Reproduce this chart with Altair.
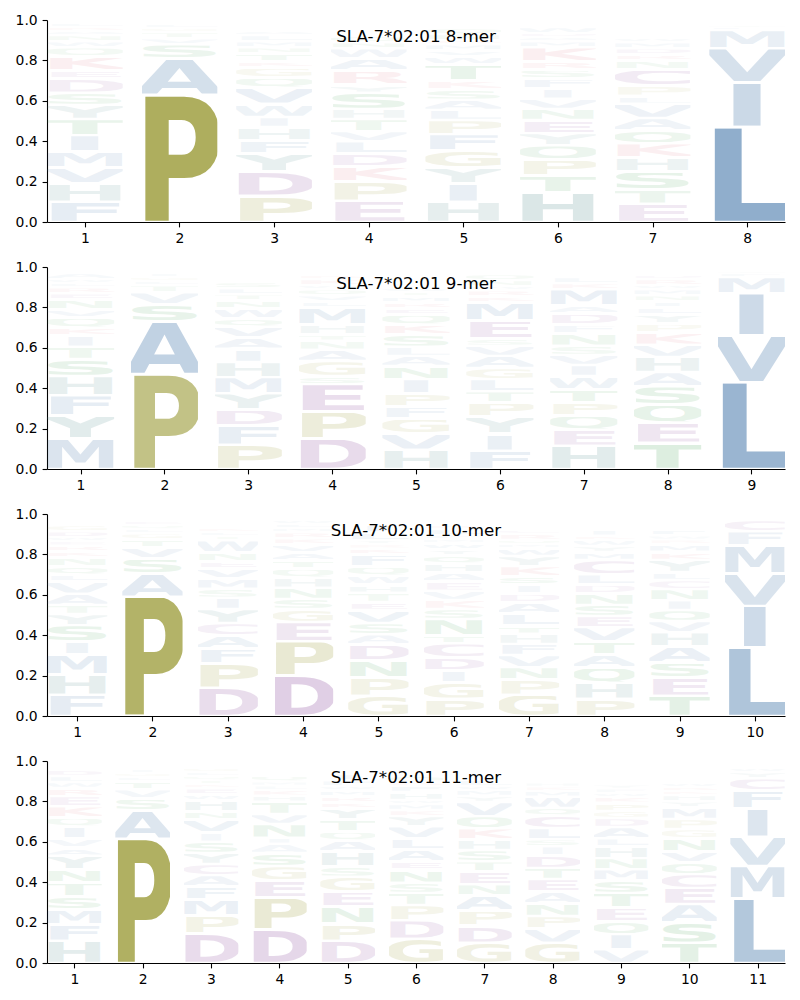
import base64
import altair as alt
import pandas as pd

# ---------------- data: letters listed bottom -> top, with their heights ----------------
TITLES = ["SLA-7*02:01 8-mer", "SLA-7*02:01 9-mer", "SLA-7*02:01 10-mer", "SLA-7*02:01 11-mer"]

MER8_LETTERS = [
    "FHVMITYSDEKQWNARL", "PASVTGL", "PDYFHIWVQGKTNMLA", "EPKDLVTHSYRAWNQ",
    "HIYGFPLASKTWVMRNQ", "HTPQYENVIFSRKMADW", "ETSHKQAVLPCNRDMW", "LIVMFT",
]
MER8_HEIGHTS = [
    [.10, .09, .08, .08, .08, .08, .07, .06, .07, .04, .07, .045, .03, .03, .02, .02, .02],
    [.63, .18, .07, .03, .03, .02, .02],
    [.13, .12, .09, .065, .065, .05, .065, .08, .05, .05, .03, .04, .03, .03, .03, .02],
    [.105, .095, .075, .065, .06, .05, .06, .05, .08, .04, .07, .06, .05, .03, .03],
    [.10, .09, .08, .085, .08, .07, .05, .05, .05, .045, .08, .04, .03, .03, .02, .03, .03],
    [.145, .085, .08, .07, .06, .065, .055, .05, .05, .05, .045, .04, .07, .03, .02, .02, .03],
    [.09, .07, .09, .07, .07, .065, .06, .07, .04, .05, .08, .045, .03, .03, .03, .02],
    [.47, .22, .17, .09, .015, .01],
]

MER9_LETTERS = [
    "MYFHSTIKQVNERLWA", "PASVTLGI", "PFDYMHIAVQWNTLS", "DPESGANTHMLVQWKR",
    "HVGFPINALSKQERMTW", "FIYPTLGAVSEMKRWNQ", "HEQPTWIVSNFDAMKL", "TEQSAHVKPYLINMWRD",
    "LVIMFY",
]
MER9_HEIGHTS = [
    [.15, .115, .10, .095, .085, .06, .055, .04, .05, .04, .05, .03, .03, .02, .02, .03],
    [.47, .26, .085, .06, .035, .02, .02, .02],
    [.12, .095, .08, .08, .08, .075, .065, .055, .055, .04, .05, .04, .03, .03, .03],
    [.15, .135, .135, .04, .075, .055, .045, .03, .05, .085, .03, .03, .03, .02, .03, .02],
    [.095, .08, .075, .06, .065, .07, .065, .05, .045, .06, .05, .05, .03, .03, .03, .02, .02],
    [.09, .085, .085, .07, .055, .06, .055, .06, .05, .035, .09, .09, .03, .03, .02, .03, .03],
    [.115, .08, .07, .065, .065, .065, .055, .05, .045, .06, .045, .055, .04, .08, .03, .03],
    [.13, .10, .09, .09, .07, .075, .06, .06, .045, .045, .035, .03, .03, .03, .02, .03, .02],
    [.43, .23, .21, .08, .02, .01],
]

MER10_LETTERS = [
    "FHMISYTAVLQNKREWDG", "PASVTGLQE", "DPFACYISMVENWTLK", "DPEGSNHQTAVKRMLW",
    "GPNDASVETHWQFKRYLI", "PGIDCTNSKVEAHQYWMFLR", "GPNVFHTLADISKYWMQRC", "PHQATVESNDLCMYWKI",
    "TESAHVQINCLYKMRWF", "LIVMFC",
]
MER10_HEIGHTS = [
    [.105, .10, .10, .065, .08, .055, .045, .055, .06, .035, .04, .045, .03, .03, .02, .02, .03, .03],
    [.59, .115, .075, .055, .04, .03, .02, .02, .02],
    [.14, .12, .075, .065, .06, .07, .055, .045, .05, .05, .035, .045, .06, .02, .02, .02],
    [.20, .17, .095, .065, .05, .055, .05, .045, .04, .04, .04, .03, .03, .02, .02, .02],
    [.10, .09, .085, .08, .05, .055, .065, .04, .045, .04, .045, .045, .06, .03, .02, .02, .04, .04],
    [.085, .08, .06, .065, .07, .04, .08, .05, .045, .045, .045, .045, .045, .04, .03, .03, .02, .02, .03, .02],
    [.105, .075, .062, .06, .055, .05, .04, .06, .055, .045, .045, .04, .05, .05, .04, .02, .02, .03, .02],
    [.085, .08, .075, .065, .065, .07, .055, .055, .057, .045, .05, .07, .04, .03, .03, .02, .03],
    [.10, .09, .075, .08, .07, .055, .055, .048, .055, .045, .04, .06, .04, .04, .02, .02, .03],
    [.34, .205, .16, .14, .07, .055],
]

MER11_LETTERS = [
    "HFMSTNYAVIQKERWLD", "PASVTLGI", "DPMFACYSIVNHWEKTQLG", "DPEGSAINVTHKLMQ",
    "DPNEGSHAQTYKRMWFI", "GDPTSNEALVYKMWHFRQ", "GDPANETSHKQVYMWL", "GVPNAETDISLCQWMKH",
    "VIQETSMNHLADGPKWFY", "TSAECQVNGPMYHKRW", "LMVIFCYW",
]
MER11_HEIGHTS = [
    [.11, .08, .075, .065, .068, .065, .068, .04, .045, .06, .045, .055, .05, .04, .03, .03, .03],
    [.615, .14, .06, .045, .04, .02, .02, .02],
    [.145, .09, .08, .065, .055, .055, .055, .055, .045, .065, .04, .055, .03, .03, .02, .02, .02, .02, .02],
    [.165, .16, .085, .07, .065, .045, .03, .068, .05, .06, .03, .03, .02, .02, .03],
    [.11, .085, .085, .075, .072, .05, .075, .055, .045, .058, .055, .03, .03, .03, .02, .03, .03],
    [.12, .092, .075, .06, .05, .065, .04, .06, .055, .06, .05, .03, .03, .02, .04, .03, .02, .03],
    [.10, .085, .075, .075, .055, .062, .052, .055, .053, .055, .06, .07, .03, .03, .02, .03],
    [.10, .07, .063, .062, .058, .063, .055, .062, .045, .035, .055, .062, .038, .055, .03, .02, .02],
    [.068, .075, .062, .07, .072, .062, .055, .055, .057, .042, .055, .045, .035, .04, .03, .02, .02, .02],
    [.10, .10, .092, .08, .068, .058, .055, .065, .045, .05, .058, .03, .03, .02, .02, .02],
    [.32, .16, .145, .14, .09, .06, .03, .02],
]

PANELS = [
    (TITLES[0], MER8_LETTERS, MER8_HEIGHTS),
    (TITLES[1], MER9_LETTERS, MER9_HEIGHTS),
    (TITLES[2], MER10_LETTERS, MER10_HEIGHTS),
    (TITLES[3], MER11_LETTERS, MER11_HEIGHTS),
]

# ---------------- styling: colour per residue, glyph images ----------------
GROUP_COLORS = {
    "AVILMFW": "#4477AA",
    "HY": "#3F8080",
    "STNQ": "#339944",
    "DEC": "#884499",
    "KR": "#DD5566",
    "GP": "#999933",
}
COLOR = {aa: col for group, col in GROUP_COLORS.items() for aa in group}


def glyph_url(letter):
    if letter == "I":
        x, tl = 14.6, 70.8
    else:
        x, tl = -10, 120
    svg = (
        '<svg xmlns="http://www.w3.org/2000/svg" width="100" height="73" '
        'viewBox="0 0 100 73" preserveAspectRatio="none">'
        f'<text x="{x}" y="73" font-family="DejaVu Sans" font-weight="bold" '
        f'font-size="100" textLength="{tl}" lengthAdjust="spacingAndGlyphs" '
        f'fill="{COLOR[letter]}">{letter}</text></svg>'
    )
    return "data:image/svg+xml;base64," + base64.b64encode(svg.encode()).decode()


URLS = {aa: glyph_url(aa) for aa in COLOR}

PLOT_W, PLOT_H = 738, 202


def panel(title, letters, heights):
    n = len(letters)
    rows = []
    for pos, (lets, hs) in enumerate(zip(letters, heights), start=1):
        for k, (aa, h) in enumerate(zip(lets, hs)):
            rows.append({"pos": pos, "aa": aa, "h": h, "k": k, "url": URLS[aa]})
    df = pd.DataFrame(rows)

    logo = (
        alt.Chart(df)
        .transform_stack(stack="h", groupby=["pos"], as_=["s0", "s1"],
                         sort=[alt.SortField(field="k", order="ascending")])
        .transform_calculate(
            pad="min(0.006, datum.h * 0.2)",
            ylo="datum.s0 + datum.pad",
            yhi="datum.s1 - datum.pad",
            xlo="datum.pos - 0.4",
            xhi="datum.pos + 0.4",
        )
        .mark_image(aspect=False)
        .encode(
            x=alt.X("xlo:Q", scale=alt.Scale(domain=[0.6, n + 0.4], nice=False, zero=False),
                    axis=alt.Axis(values=list(range(1, n + 1)), format="d", title=None,
                                  labelFlush=False)),
            x2="xhi:Q",
            y=alt.Y("ylo:Q", scale=alt.Scale(domain=[0, 1], nice=False),
                    axis=alt.Axis(values=[0, 0.2, 0.4, 0.6, 0.8, 1.0], format=".1f",
                                  title=None, labelFlush=False)),
            y2="yhi:Q",
            url="url:N",
            opacity=alt.Opacity("h:Q", scale=alt.Scale(domain=[0, 0.8], range=[0, 1]),
                                legend=None),
        )
    )
    ttl = (
        alt.Chart(alt.Data(values=[{"t": title}]))
        .mark_text(font="DejaVu Sans", fontSize=16.7, color="black", baseline="alphabetic")
        .encode(x=alt.value(PLOT_W / 2), y=alt.value(22), text="t:N")
    )
    return alt.layer(logo, ttl).properties(width=PLOT_W, height=PLOT_H)


chart = (
    alt.vconcat(*[panel(t, l, h) for t, l, h in PANELS], spacing=45, bounds="flush")
    .properties(padding={"left": 7, "top": 5, "right": 5, "bottom": 5})
    .configure_view(stroke=None)
    .configure_axis(
        grid=False,
        domainColor="black",
        domainWidth=1.1,
        tickColor="black",
        tickWidth=1.1,
        tickSize=4.9,
        labelColor="black",
        labelFont="DejaVu Sans",
        labelFontSize=13.9,
        labelPadding=4.9,
    )
)

chart.save("out.html", embed_options={"renderer": "svg", "actions": False})
